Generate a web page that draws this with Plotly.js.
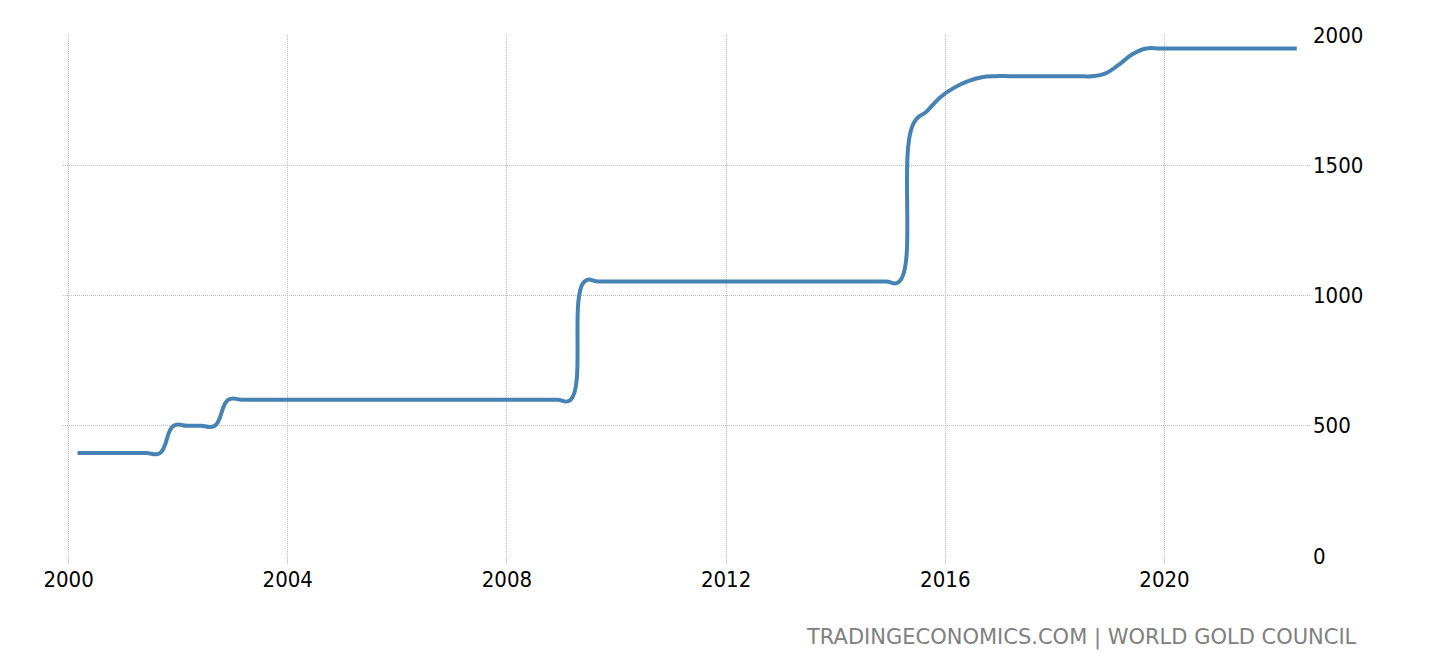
<!DOCTYPE html>
<html>
<head>
<meta charset="utf-8">
<script src="https://cdn.plot.ly/plotly-3.0.1.min.js"></script>
<style>
  html, body { margin: 0; padding: 0; background: #fff; }
  #chart { width: 1440px; height: 670px; }
</style>
</head>
<body>
<div id="chart"></div>
<script>
// gold reserves in tonnes, quarterly
var years = [];
for (var y = 2000; y <= 2022; y++) years.push(y);
var quarterMonths = ['03', '06', '09', '12'];

var tonnes2000to2002 = [395, 395, 395, 395, 395, 395, 395, 500, 500, 500, 500, 600];
var tonnes2003to2008 = [600, 600, 600, 600, 600, 600, 600, 600, 600, 600, 600, 600,
                        600, 600, 600, 600, 600, 600, 600, 600, 600, 600, 600, 600];
var tonnes2009to2014 = [600, 1054, 1054, 1054, 1054, 1054, 1054, 1054, 1054, 1054, 1054, 1054,
                        1054, 1054, 1054, 1054, 1054, 1054, 1054, 1054, 1054, 1054, 1054, 1054];
var tonnes2015to2018 = [1054, 1658, 1708, 1762, 1798, 1823, 1838, 1842,
                        1842, 1842, 1842, 1842, 1842, 1842, 1842, 1852];
var tonnes2019to2022 = [1885, 1926, 1948, 1948, 1948, 1948, 1948, 1948,
                        1948, 1948, 1948, 1948, 1948, 1948];

var values = tonnes2000to2002.concat(tonnes2003to2008, tonnes2009to2014, tonnes2015to2018, tonnes2019to2022);

var dates = [];
for (var i = 0; i < values.length; i++) {
    dates.push(years[Math.floor(i / 4)] + '-' + quarterMonths[i % 4] + '-01');
}

var tickYears = ['2000', '2004', '2008', '2012', '2016', '2020'];
var yTicks = [0, 500, 1000, 1500, 2000];

var font = 'DejaVu Sans Condensed, DejaVu Sans, sans-serif';

var data = [{
    x: dates,
    y: values,
    type: 'scatter',
    mode: 'lines',
    line: { color: '#4682b4', width: 4, shape: 'spline', smoothing: 1.3 },
    hoverinfo: 'x+y'
}];

var layout = {
    width: 1440,
    height: 670,
    margin: { l: 63, r: 130, t: 35, b: 114 },
    paper_bgcolor: '#fff',
    plot_bgcolor: '#fff',
    showlegend: false,
    font: { family: font, size: 22, color: '#000' },
    xaxis: {
        type: 'date',
        range: ['1999-11-25', '2022-08-28'],
        tickvals: tickYears.map(function (t) { return t + '-01-01'; }),
        ticktext: tickYears,
        showgrid: true,
        gridcolor: '#bdbdbd',
        griddash: '1px,1px',
        gridwidth: 1,
        ticks: 'outside',
        ticklen: 7,
        tickcolor: '#d0d0d0',
        tickwidth: 1,
        ticklabelstandoff: -3,
        showline: false,
        zeroline: false,
        tickfont: { family: font, size: 22, color: '#000' }
    },
    yaxis: {
        side: 'right',
        range: [0, 2000],
        tickvals: yTicks,
        showgrid: true,
        gridcolor: '#bdbdbd',
        griddash: '1px,1px',
        gridwidth: 1,
        ticks: '',
        showline: false,
        zeroline: false,
        ticklabelstandoff: 2,
        tickfont: { family: font, size: 22, color: '#000' }
    },
    annotations: [{
        text: 'TRADINGECONOMICS.COM | WORLD GOLD COUNCIL',
        xref: 'paper', yref: 'paper',
        x: 1.039, y: -0.157,
        xanchor: 'right', yanchor: 'middle',
        showarrow: false,
        font: { family: 'DejaVu Sans, sans-serif', size: 21, color: '#808080' }
    }]
};

Plotly.newPlot('chart', data, layout, { displayModeBar: false, staticPlot: true });
</script>
</body>
</html>
